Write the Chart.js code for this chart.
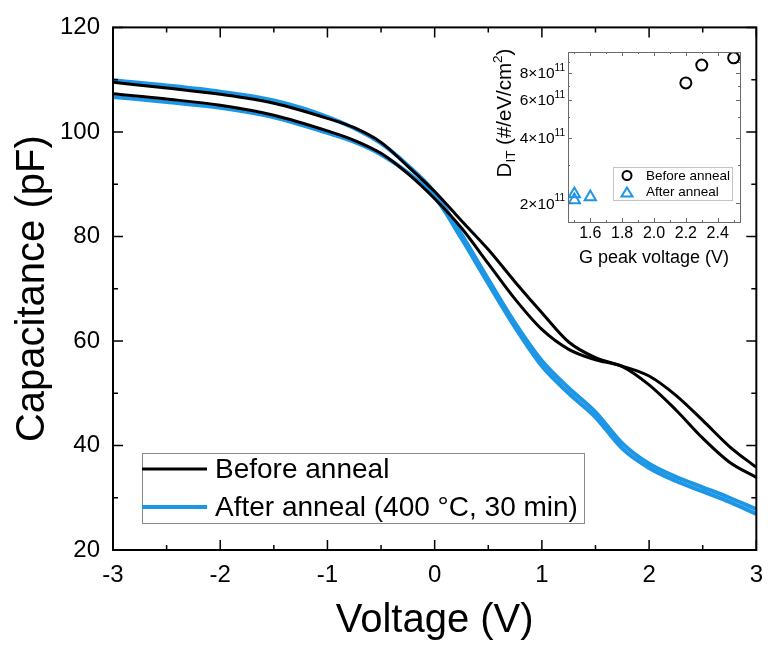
<!DOCTYPE html>
<html>
<head>
<meta charset="utf-8">
<script src="https://cdn.jsdelivr.net/npm/chart.js@4.4.1/dist/chart.umd.min.js"></script>
<style>
  html, body { margin: 0; padding: 0; background: #fff; }
  #wrap { position: relative; width: 774px; height: 645px; }
  #main { position: absolute; left: 0; top: 0; }
  #inset { position: absolute; left: 480px; top: 40px; }
</style>
</head>
<body>
<div id="wrap">
  <canvas id="main" width="774" height="645"></canvas>
  <canvas id="inset" width="270" height="240"></canvas>
</div>
<script>
// C-V curves (pF)
const voltage  = [-3, -2.5, -2, -1.5, -1, -0.75, -0.5, -0.25, 0, 0.25, 0.5, 0.75, 1, 1.25, 1.5, 1.75, 2, 2.25, 2.5, 2.75, 3];
const beforeA  = [109.5, 108.4, 107.2, 105.5, 102.6, 100.8, 98.0, 93.4, 88.6, 83.0, 77.5, 71.3, 65.4, 59.8, 56.8, 55.2, 53.3, 49.6, 44.8, 39.8, 35.8];
const beforeB  = [107.3, 106.3, 105.1, 103.2, 100.2, 98.4, 95.9, 92.0, 87.2, 81.6, 74.8, 68.0, 62.2, 58.4, 56.4, 55.1, 51.6, 46.8, 41.4, 36.8, 33.9];
const afterA   = [109.9, 108.9, 107.7, 106.0, 102.9, 100.7, 97.8, 93.6, 88.4, 80.4, 71.8, 63.4, 56.2, 51.0, 46.4, 40.4, 36.5, 34.0, 32.0, 30.0, 27.8];
const afterB   = [106.7, 105.7, 104.6, 102.8, 99.8, 98.1, 95.7, 92.2, 87.6, 79.6, 71.0, 62.6, 55.2, 50.0, 45.4, 39.4, 35.7, 33.2, 31.2, 29.2, 26.9];
const seriesNames = ['Before anneal', 'After anneal (400 \u00B0C, 30 min)'];

const xTicks = [-3, -2, -1, 0, 1, 2, 3];
const yTicks = [20, 40, 60, 80, 100, 120];

// inset: interface trap density vs G peak voltage
const gPeakBefore = [2.2, 2.3, 2.5];
const ditBefore   = [7.2e11, 8.7e11, 9.4e11];
const gPeakAfter  = [1.5, 1.5, 1.6];
const ditAfter    = [2.21e11, 2.07e11, 2.14e11];
const insetLegend = ['Before anneal', 'After anneal'];
const insetXTicks = [1.6, 1.8, 2.0, 2.2, 2.4];
const insetYTicks = [2e11, 4e11, 6e11, 8e11];
const insetYMant  = ['2', '4', '6', '8'];
const insetYExp   = '11';

const BLACK = '#000000';
const BLUE = '#1E96E6';
const FONT = "'Liberation Sans', Arial, sans-serif";

const pts = (xs, ys) => xs.map((v, i) => ({ x: v, y: ys[i] }));

// box with inward ticks on all four sides + legend
const mainFrame = {
  id: 'mainFrame',
  afterDraw(chart) {
    const { ctx, chartArea: a, scales: { x, y } } = chart;
    ctx.save();
    ctx.strokeStyle = '#000';
    ctx.lineWidth = 2;
    ctx.strokeRect(a.left, a.top, a.right - a.left, a.bottom - a.top);
    ctx.lineWidth = 1.5;
    ctx.beginPath();
    for (let k = 0; k <= 12; k++) {
      const v = -3 + k * 0.5;
      const px = x.getPixelForValue(v);
      const len = k % 2 === 0 ? 10 : 5;
      ctx.moveTo(px, a.bottom); ctx.lineTo(px, a.bottom - len);
      ctx.moveTo(px, a.top); ctx.lineTo(px, a.top + len);
    }
    for (let v = 20; v <= 120; v += 10) {
      const py = y.getPixelForValue(v);
      const len = v % 20 === 0 ? 10 : 5;
      ctx.moveTo(a.left, py); ctx.lineTo(a.left + len, py);
      ctx.moveTo(a.right, py); ctx.lineTo(a.right - len, py);
    }
    ctx.stroke();

    const lx = 142, ly = 453, lw = 442, lh = 70;
    ctx.fillStyle = '#fff';
    ctx.fillRect(lx, ly, lw, lh);
    ctx.strokeStyle = '#8a8a8a';
    ctx.lineWidth = 1;
    ctx.strokeRect(lx + 0.5, ly + 0.5, lw, lh);
    const rows = [[seriesNames[0], BLACK, 3, 469], [seriesNames[1], BLUE, 4, 507]];
    ctx.font = '28px ' + FONT;
    ctx.textBaseline = 'middle';
    rows.forEach(([txt, col, w, yy]) => {
      ctx.strokeStyle = col;
      ctx.lineWidth = w;
      ctx.beginPath();
      ctx.moveTo(142, yy); ctx.lineTo(207, yy);
      ctx.stroke();
      ctx.fillStyle = '#000';
      ctx.fillText(txt, 215, yy + 1);
    });
    ctx.restore();
  }
};

new Chart(document.getElementById('main'), {
  type: 'line',
  data: {
    datasets: [
      { label: seriesNames[0], data: pts(voltage, beforeA), borderColor: BLACK, borderWidth: 3 },
      { label: seriesNames[0], data: pts(voltage, beforeB), borderColor: BLACK, borderWidth: 3 },
      { label: seriesNames[1], data: pts(voltage, afterA), borderColor: BLUE, borderWidth: 4 },
      { label: seriesNames[1], data: pts(voltage, afterB), borderColor: BLUE, borderWidth: 4 }
    ]
  },
  options: {
    responsive: false,
    animation: false,
    layout: { padding: { top: 21, right: 7, left: 0, bottom: 0 } },
    elements: { point: { radius: 0 }, line: { cubicInterpolationMode: 'monotone', fill: false } },
    plugins: { legend: { display: false }, tooltip: { enabled: false } },
    scales: {
      x: {
        type: 'linear', min: -3, max: 3,
        afterBuildTicks: s => { s.ticks = xTicks.map(v => ({ value: v })); },
        afterFit: s => { s.height = 95; },
        grid: { display: false, drawTicks: false },
        border: { display: false },
        ticks: { color: '#000', padding: 11, font: { family: FONT, size: 24 }, callback: v => String(v) },
        title: { display: true, text: 'Voltage (V)', color: '#000', font: { family: FONT, size: 40 }, padding: { top: 0, bottom: 0 } }
      },
      y: {
        min: 20, max: 120,
        afterBuildTicks: s => { s.ticks = yTicks.map(v => ({ value: v })); },
        afterFit: s => { s.width = 113; },
        grid: { display: false, drawTicks: false },
        border: { display: false },
        ticks: { color: '#000', padding: 13, font: { family: FONT, size: 24 }, callback: v => String(v) },
        title: { display: true, text: 'Capacitance (pF)', color: '#000', font: { family: FONT, size: 40 }, padding: { top: 9, bottom: 0 } }
      }
    }
  },
  plugins: [mainFrame]
});

// inset frame, small ticks, y labels and title with sub/superscript, legend
const insetFrame = {
  id: 'insetFrame',
  afterDraw(chart) {
    const { ctx, chartArea: a, scales: { x, y } } = chart;
    ctx.save();
    ctx.strokeStyle = '#6a6a6a';
    ctx.lineWidth = 1;
    ctx.strokeRect(a.left + 0.5, a.top + 0.5, a.right - a.left, a.bottom - a.top);
    ctx.beginPath();
    for (let v = 1.5; v <= 2.5001; v += 0.1) {
      const px = Math.round(x.getPixelForValue(v)) + 0.5;
      const len = Math.round(v * 10) % 2 === 0 ? 4 : 2;
      ctx.moveTo(px, a.bottom); ctx.lineTo(px, a.bottom - len);
      ctx.moveTo(px, a.top); ctx.lineTo(px, a.top + len);
    }
    [2e11, 3e11, 4e11, 5e11, 6e11, 7e11, 8e11, 9e11].forEach((v, i) => {
      const py = Math.round(y.getPixelForValue(v)) + 0.5;
      const len = i % 2 === 0 ? 4 : 2;
      ctx.moveTo(a.left, py); ctx.lineTo(a.left + len, py);
      ctx.moveTo(a.right, py); ctx.lineTo(a.right - len, py);
    });
    ctx.stroke();

    // y tick labels: m×10^11
    ctx.fillStyle = '#000';
    ctx.textBaseline = 'middle';
    insetYTicks.forEach((v, i) => {
      const py = y.getPixelForValue(v);
      ctx.font = '10px ' + FONT;
      const ew = ctx.measureText(insetYExp).width;
      ctx.textAlign = 'right';
      ctx.fillText(insetYExp, a.left - 3, py - 5);
      ctx.font = '15.5px ' + FONT;
      ctx.fillText(insetYMant[i] + '\u00D710', a.left - 3 - ew, py + 1);
    });
    ctx.textAlign = 'left';

    // y title: D_IT (#/eV/cm^2)
    ctx.translate(25, 73);
    ctx.rotate(-Math.PI / 2);
    const big = '20.5px ' + FONT, small = '13.5px ' + FONT;
    const parts = [['D', big, 0], ['IT', small, 6], [' (#/eV/cm', big, 0], ['2', small, -7], [')', big, 0]];
    let total = 0;
    parts.forEach(([t, f]) => { ctx.font = f; total += ctx.measureText(t).width; });
    let cx = -total / 2;
    parts.forEach(([t, f, dy]) => {
      ctx.font = f;
      ctx.fillText(t, cx, dy);
      cx += ctx.measureText(t).width;
    });
    ctx.setTransform(1, 0, 0, 1, 0, 0);

    // legend
    ctx.fillStyle = '#fff';
    ctx.fillRect(133, 127, 119, 33);
    ctx.strokeStyle = '#c4c4c4';
    ctx.strokeRect(133.5, 127.5, 119, 33);
    ctx.font = '13.5px ' + FONT;
    ctx.fillStyle = '#000';
    ctx.lineWidth = 2;
    ctx.strokeStyle = BLACK;
    ctx.beginPath();
    ctx.arc(147, 135.5, 4.5, 0, Math.PI * 2);
    ctx.stroke();
    ctx.fillText(insetLegend[0], 166, 136);
    ctx.strokeStyle = BLUE;
    ctx.beginPath();
    ctx.moveTo(147, 147.5); ctx.lineTo(152.5, 156.5); ctx.lineTo(141.5, 156.5); ctx.closePath();
    ctx.stroke();
    ctx.fillText(insetLegend[1], 166, 152.5);
    ctx.restore();
  }
};

new Chart(document.getElementById('inset'), {
  type: 'scatter',
  data: {
    datasets: [
      { label: insetLegend[0], data: pts(gPeakBefore, ditBefore), pointStyle: 'circle', pointRadius: 5.5, borderColor: BLACK, backgroundColor: 'rgba(0,0,0,0)', pointBorderWidth: 2 },
      { label: insetLegend[1], data: pts(gPeakAfter, ditAfter), pointStyle: 'triangle', pointRadius: 6.5, borderColor: BLUE, backgroundColor: 'rgba(0,0,0,0)', pointBorderWidth: 2 }
    ]
  },
  options: {
    responsive: false,
    animation: false,
    layout: { padding: { top: 12, right: 10, left: 0, bottom: 0 } },
    plugins: { legend: { display: false }, tooltip: { enabled: false } },
    scales: {
      x: {
        type: 'linear', min: 1.46, max: 2.54,
        afterBuildTicks: s => { s.ticks = insetXTicks.map(v => ({ value: v })); },
        afterFit: s => { s.height = 58; },
        grid: { display: false, drawTicks: false },
        border: { display: false },
        ticks: { color: '#000', padding: 2, font: { family: FONT, size: 16 }, callback: v => v.toFixed(1) },
        title: { display: true, text: 'G peak voltage (V)', color: '#000', font: { family: FONT, size: 18 }, padding: { top: 0, bottom: 11 } }
      },
      y: {
        type: 'logarithmic', min: 1.64e11, max: 1.0e12,
        afterBuildTicks: s => { s.ticks = insetYTicks.map(v => ({ value: v })); },
        afterFit: s => { s.width = 88; },
        grid: { display: false, drawTicks: false },
        border: { display: false },
        ticks: { display: false }
      }
    }
  },
  plugins: [insetFrame]
});
</script>
</body>
</html>
